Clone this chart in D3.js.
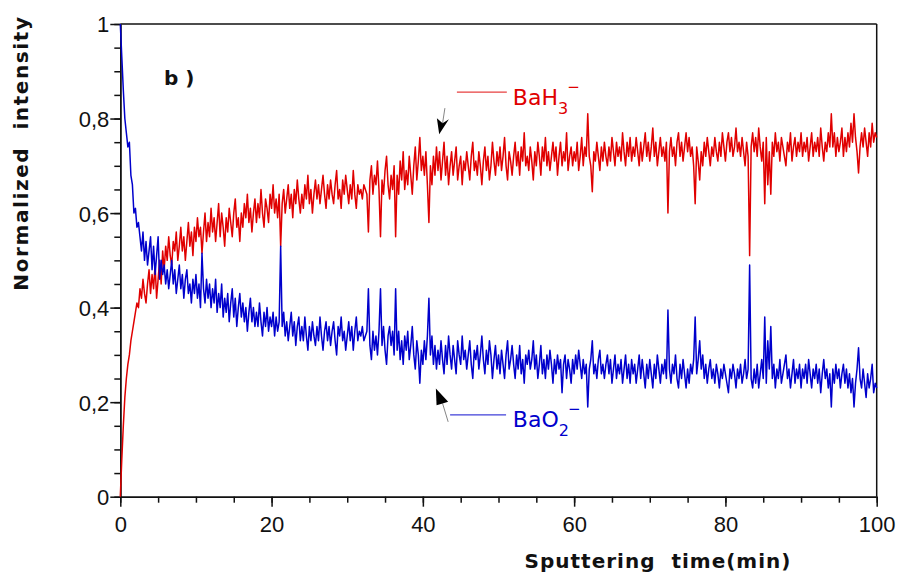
<!DOCTYPE html>
<html>
<head>
<meta charset="utf-8">
<script src="https://cdn.jsdelivr.net/npm/d3@7"></script>
<style>
  body { margin: 0; background: #fff; }
  svg { display: block; font-family: "DejaVu Sans", sans-serif; }
  .axis text { font-size: 22px; fill: #111; }
  .axis path, .axis line { stroke: #111; stroke-width: 1.5; }
</style>
</head>
<body>
<div id="chart"></div>
<script>
// sampling step of both traces (min)
const timeStep = 0.2;

// BaH3- normalized intensity, one value per 0.2 min, 0 .. 100 min (10 values = 2 min per row)
const bah3 = [
  0.00,0.08,0.15,0.21,0.25,0.28,0.30,0.33,0.35,0.37,
  0.39,0.41,0.40,0.44,0.42,0.46,0.43,0.41,0.45,0.48,
  0.43,0.47,0.44,0.49,0.42,0.46,0.50,0.45,0.52,0.48,
  0.53,0.50,0.55,0.51,0.49,0.54,0.52,0.56,0.50,0.53,
  0.57,0.52,0.55,0.50,0.54,0.58,0.53,0.56,0.51,0.57,
  0.54,0.59,0.55,0.57,0.515,0.56,0.60,0.54,0.58,0.55,
  0.61,0.56,0.59,0.54,0.58,0.62,0.55,0.60,0.57,0.53,
  0.59,0.56,0.61,0.58,0.55,0.60,0.63,0.57,0.59,0.54,
  0.60,0.57,0.62,0.59,0.64,0.58,0.61,0.56,0.60,0.63,
  0.58,0.62,0.59,0.65,0.60,0.57,0.63,0.61,0.58,0.64,
  0.61,0.66,0.60,0.63,0.59,0.64,0.53,0.62,0.65,0.60,
  0.63,0.66,0.61,0.64,0.59,0.65,0.62,0.67,0.63,0.60,
  0.64,0.61,0.66,0.63,0.68,0.62,0.65,0.60,0.64,0.67,
  0.63,0.66,0.62,0.65,0.68,0.64,0.61,0.66,0.63,0.67,
  0.64,0.62,0.66,0.69,0.63,0.65,0.61,0.67,0.64,0.68,
  0.65,0.62,0.66,0.63,0.69,0.64,0.61,0.66,0.64,0.65,
  0.63,0.66,0.65,0.64,0.56,0.67,0.70,0.64,0.68,0.66,
  0.71,0.65,0.55,0.67,0.64,0.69,0.72,0.66,0.63,0.68,
  0.65,0.70,0.55,0.68,0.64,0.71,0.67,0.73,0.65,0.69,
  0.66,0.72,0.68,0.64,0.70,0.74,0.67,0.71,0.76,0.69,
  0.72,0.68,0.73,0.66,0.58,0.70,0.66,0.72,0.68,0.74,
  0.69,0.73,0.67,0.71,0.75,0.68,0.72,0.66,0.70,0.73,
  0.68,0.71,0.74,0.67,0.70,0.72,0.66,0.71,0.69,0.73,
  0.70,0.67,0.72,0.75,0.69,0.71,0.68,0.73,0.70,0.66,
  0.71,0.74,0.69,0.72,0.67,0.70,0.75,0.71,0.68,0.73,
  0.70,0.74,0.69,0.72,0.76,0.70,0.67,0.73,0.71,0.68,
  0.72,0.75,0.70,0.73,0.68,0.74,0.71,0.77,0.70,0.72,
  0.69,0.74,0.71,0.67,0.73,0.70,0.75,0.72,0.68,0.74,
  0.71,0.76,0.70,0.73,0.69,0.72,0.75,0.71,0.74,0.68,
  0.72,0.75,0.70,0.73,0.71,0.77,0.69,0.72,0.74,0.70,
  0.73,0.71,0.75,0.69,0.72,0.76,0.70,0.74,0.72,0.81,
  0.72,0.70,0.645,0.73,0.71,0.75,0.72,0.69,0.74,0.71,
  0.75,0.72,0.70,0.74,0.71,0.76,0.73,0.70,0.75,0.72,
  0.74,0.71,0.77,0.73,0.70,0.75,0.72,0.76,0.71,0.74,
  0.72,0.76,0.73,0.70,0.75,0.71,0.74,0.77,0.72,0.75,
  0.71,0.74,0.78,0.72,0.75,0.70,0.73,0.76,0.72,0.74,
  0.71,0.75,0.60,0.73,0.76,0.72,0.74,0.70,0.75,0.77,
  0.72,0.75,0.71,0.74,0.77,0.73,0.76,0.72,0.74,0.70,
  0.62,0.74,0.71,0.67,0.73,0.70,0.75,0.72,0.76,0.73,
  0.70,0.74,0.72,0.76,0.73,0.71,0.75,0.72,0.77,0.74,
  0.71,0.75,0.77,0.73,0.76,0.72,0.74,0.78,0.73,0.75,
  0.72,0.76,0.73,0.70,0.75,0.72,0.51,0.74,0.77,0.73,
  0.76,0.72,0.78,0.74,0.71,0.75,0.62,0.76,0.66,0.73,
  0.64,0.75,0.72,0.77,0.73,0.75,0.71,0.76,0.74,0.72,
  0.70,0.75,0.73,0.77,0.71,0.74,0.76,0.72,0.75,0.73,
  0.77,0.72,0.75,0.73,0.76,0.71,0.74,0.77,0.72,0.75,
  0.73,0.76,0.72,0.78,0.74,0.71,0.75,0.73,0.77,0.74,
  0.81,0.74,0.77,0.72,0.76,0.73,0.75,0.78,0.72,0.76,
  0.73,0.77,0.74,0.79,0.75,0.81,0.76,0.73,0.685,0.74,
  0.77,0.74,0.78,0.75,0.72,0.77,0.74,0.79,0.75,0.77,
  0.76
];

// BaO2- normalized intensity, same time grid
const bao2 = [
  1.00,0.93,0.86,0.80,0.77,0.74,0.75,0.68,0.66,0.60,
  0.61,0.57,0.58,0.55,0.52,0.56,0.50,0.54,0.49,0.52,
  0.55,0.48,0.53,0.47,0.51,0.55,0.46,0.50,0.47,0.49,
  0.45,0.48,0.44,0.47,0.50,0.45,0.48,0.43,0.46,0.49,
  0.44,0.47,0.42,0.46,0.48,0.43,0.45,0.41,0.46,0.43,
  0.47,0.42,0.45,0.40,0.515,0.44,0.41,0.46,0.42,0.45,
  0.40,0.44,0.41,0.46,0.39,0.43,0.40,0.45,0.38,0.42,
  0.39,0.43,0.37,0.41,0.44,0.38,0.42,0.36,0.40,0.43,
  0.38,0.41,0.37,0.40,0.35,0.39,0.42,0.37,0.40,0.36,
  0.39,0.36,0.41,0.37,0.34,0.39,0.36,0.40,0.35,0.38,
  0.36,0.39,0.34,0.38,0.35,0.37,0.53,0.36,0.39,0.34,
  0.37,0.33,0.36,0.39,0.34,0.37,0.32,0.36,0.38,0.33,
  0.36,0.33,0.38,0.34,0.31,0.36,0.33,0.37,0.34,0.32,
  0.36,0.33,0.38,0.34,0.31,0.35,0.37,0.33,0.36,0.32,
  0.35,0.37,0.33,0.30,0.36,0.34,0.38,0.33,0.35,0.31,
  0.34,0.37,0.33,0.36,0.31,0.35,0.38,0.33,0.35,0.34,
  0.36,0.33,0.34,0.35,0.44,0.32,0.29,0.35,0.31,0.34,
  0.30,0.35,0.44,0.32,0.36,0.31,0.28,0.34,0.36,0.32,
  0.35,0.30,0.44,0.31,0.35,0.29,0.33,0.28,0.34,0.31,
  0.35,0.29,0.32,0.36,0.30,0.27,0.33,0.30,0.24,0.31,
  0.28,0.33,0.29,0.34,0.42,0.30,0.34,0.28,0.32,0.27,
  0.31,0.28,0.33,0.29,0.26,0.32,0.28,0.34,0.30,0.27,
  0.32,0.29,0.26,0.33,0.30,0.28,0.34,0.29,0.31,0.27,
  0.30,0.33,0.28,0.25,0.31,0.29,0.32,0.27,0.30,0.34,
  0.29,0.26,0.31,0.28,0.33,0.30,0.25,0.29,0.32,0.27,
  0.30,0.26,0.31,0.28,0.25,0.30,0.33,0.27,0.29,0.32,
  0.28,0.25,0.30,0.27,0.32,0.26,0.29,0.24,0.30,0.28,
  0.31,0.27,0.29,0.33,0.27,0.30,0.25,0.28,0.32,0.26,
  0.29,0.25,0.30,0.27,0.31,0.28,0.24,0.29,0.26,0.30,
  0.27,0.29,0.22,0.28,0.30,0.25,0.29,0.27,0.24,0.29,
  0.26,0.30,0.27,0.31,0.28,0.25,0.29,0.26,0.28,0.19,
  0.27,0.29,0.33,0.26,0.28,0.25,0.29,0.31,0.26,0.28,
  0.25,0.28,0.30,0.26,0.29,0.24,0.27,0.30,0.25,0.28,
  0.26,0.29,0.24,0.27,0.30,0.25,0.28,0.24,0.29,0.26,
  0.28,0.24,0.27,0.30,0.25,0.29,0.26,0.23,0.28,0.25,
  0.29,0.26,0.23,0.28,0.25,0.30,0.27,0.24,0.28,0.26,
  0.29,0.25,0.395,0.27,0.24,0.28,0.26,0.30,0.25,0.23,
  0.28,0.25,0.29,0.26,0.23,0.27,0.24,0.28,0.26,0.29,
  0.38,0.26,0.29,0.33,0.27,0.30,0.25,0.28,0.24,0.27,
  0.29,0.25,0.27,0.24,0.28,0.26,0.23,0.27,0.25,0.28,
  0.26,0.24,0.22,0.27,0.25,0.28,0.26,0.23,0.27,0.25,
  0.28,0.24,0.26,0.29,0.25,0.27,0.49,0.25,0.23,0.27,
  0.24,0.28,0.23,0.26,0.29,0.25,0.38,0.24,0.33,0.27,
  0.36,0.25,0.28,0.23,0.27,0.25,0.29,0.24,0.26,0.28,
  0.30,0.25,0.27,0.23,0.26,0.29,0.24,0.27,0.25,0.28,
  0.23,0.27,0.25,0.28,0.24,0.29,0.26,0.23,0.27,0.25,
  0.28,0.24,0.27,0.22,0.26,0.29,0.25,0.27,0.23,0.26,
  0.19,0.27,0.24,0.28,0.25,0.27,0.23,0.26,0.28,0.24,
  0.27,0.23,0.26,0.22,0.25,0.19,0.24,0.27,0.315,0.25,
  0.23,0.27,0.24,0.21,0.26,0.23,0.25,0.28,0.22,0.24,
  0.23
];

const xMajor = [0, 20, 40, 60, 80, 100];
const yMajor = [0, 0.2, 0.4, 0.6, 0.8, 1];
const yLabels = ['0', '0,2', '0,4', '0,6', '0,8', '1'];

const W = 909, H = 579;
const margin = { left: 120.3, right: 32.3, top: 24, bottom: 82.3 };

const svg = d3.select('#chart').append('svg')
  .attr('width', W).attr('height', H);

const x = d3.scaleLinear().domain([0, 100]).range([margin.left, W - margin.right]);
const y = d3.scaleLinear().domain([0, 1]).range([H - margin.bottom, margin.top]);

// minor ticks (every 5 min / 0.05)
svg.append('g').attr('class', 'axis')
  .attr('transform', `translate(0,${y(0)})`)
  .call(d3.axisBottom(x).tickValues(d3.range(0, 101, 5)).tickSize(6).tickSizeOuter(0).tickFormat(''));
svg.append('g').attr('class', 'axis')
  .attr('transform', `translate(${x(0)},0)`)
  .call(d3.axisLeft(y).tickValues(d3.range(0, 21).map(i => i / 20)).tickSize(6).tickSizeOuter(0).tickFormat(''));

// major ticks + labels
const gx = svg.append('g').attr('class', 'axis')
  .attr('transform', `translate(0,${y(0)})`)
  .call(d3.axisBottom(x).tickValues(xMajor).tickSize(10).tickSizeOuter(0).tickPadding(6));
gx.selectAll('text').attr('dy', '0.9em');

const gy = svg.append('g').attr('class', 'axis')
  .attr('transform', `translate(${x(0)},0)`)
  .call(d3.axisLeft(y).tickValues(yMajor).tickSize(10).tickSizeOuter(0).tickPadding(1)
    .tickFormat((d, i) => yLabels[i]));
gy.selectAll('text').attr('dy', '0.36em');

// frame top and right
svg.append('line').attr('x1', x(0)).attr('x2', x(100)).attr('y1', y(1)).attr('y2', y(1))
  .attr('stroke', '#111').attr('stroke-width', 1.5);
svg.append('line').attr('x1', x(100)).attr('x2', x(100)).attr('y1', y(1)).attr('y2', y(0))
  .attr('stroke', '#111').attr('stroke-width', 1.5);

// traces
const line = d3.line()
  .x((d, i) => x(i * timeStep))
  .y(d => y(d));

svg.append('path').datum(bah3)
  .attr('fill', 'none').attr('stroke', '#e00000').attr('stroke-width', 1.5)
  .attr('stroke-linejoin', 'round').attr('d', line);
svg.append('path').datum(bao2)
  .attr('fill', 'none').attr('stroke', '#0000cc').attr('stroke-width', 1.5)
  .attr('stroke-linejoin', 'round').attr('d', line);

// axis titles
svg.append('text')
  .attr('x', 658).attr('y', 568)
  .attr('text-anchor', 'middle')
  .attr('font-size', 20).attr('font-weight', 'bold').attr('fill', '#111')
  .attr('letter-spacing', 1)
  .attr('xml:space', 'preserve')
  .text('Sputtering  time(min)');

svg.append('text')
  .attr('transform', 'translate(28,153) rotate(-90)')
  .attr('text-anchor', 'middle')
  .attr('font-size', 20).attr('font-weight', 'bold').attr('fill', '#111')
  .attr('letter-spacing', 1.6)
  .attr('xml:space', 'preserve')
  .text('Normalized  intensity');

svg.append('text')
  .attr('x', 164).attr('y', 85)
  .attr('font-size', 20).attr('font-weight', 'bold').attr('fill', '#111')
  .attr('xml:space', 'preserve')
  .text('b )');

// annotations: legend line + label
function label(t, v, color, main, sub, lineFrom, lineTo, lineV) {
  svg.append('line')
    .attr('x1', x(lineFrom)).attr('x2', x(lineTo))
    .attr('y1', y(lineV)).attr('y2', y(lineV))
    .attr('stroke', color).attr('stroke-width', 1.2).attr('opacity', 0.75);
  const tx = svg.append('text')
    .attr('x', x(t)).attr('y', y(v))
    .attr('font-size', 22).attr('fill', color);
  tx.append('tspan').text(main);
  tx.append('tspan').attr('font-size', 16).attr('dy', 9).text(sub);
  tx.append('tspan').attr('font-size', 15).attr('dy', -22).attr('dx', -1).text('−');
}
label(51.9, 0.829, '#e00000', 'BaH', '3', 44.5, 51.1, 0.856);
label(51.9, 0.147, '#0000cc', 'BaO', '2', 43.6, 51.0, 0.173);

// arrows: head = [barb, notch, barb] in px relative to the tip, tail from the notch
function arrow(tipT, tipV, head, tail) {
  const tx = x(tipT), ty = y(tipV);
  svg.append('line')
    .attr('x1', tx + head[1][0]).attr('y1', ty + head[1][1])
    .attr('x2', tx + tail[0]).attr('y2', ty + tail[1])
    .attr('stroke', '#777').attr('stroke-width', 0.9);
  const pts = [[0, 0]].concat(head).map(p => [tx + p[0], ty + p[1]]);
  svg.append('path')
    .attr('d', 'M' + pts.map(p => p.join(',')).join('L') + 'Z')
    .attr('fill', '#000');
}
arrow(42.16, 0.767, [[-2.3, -16], [3.4, -11], [9.7, -15]], [5.7, -26]);
arrow(41.72, 0.229, [[0.7, 16.7], [6.7, 15], [12.3, 13.4]], [12.3, 33.4]);
</script>
</body>
</html>
